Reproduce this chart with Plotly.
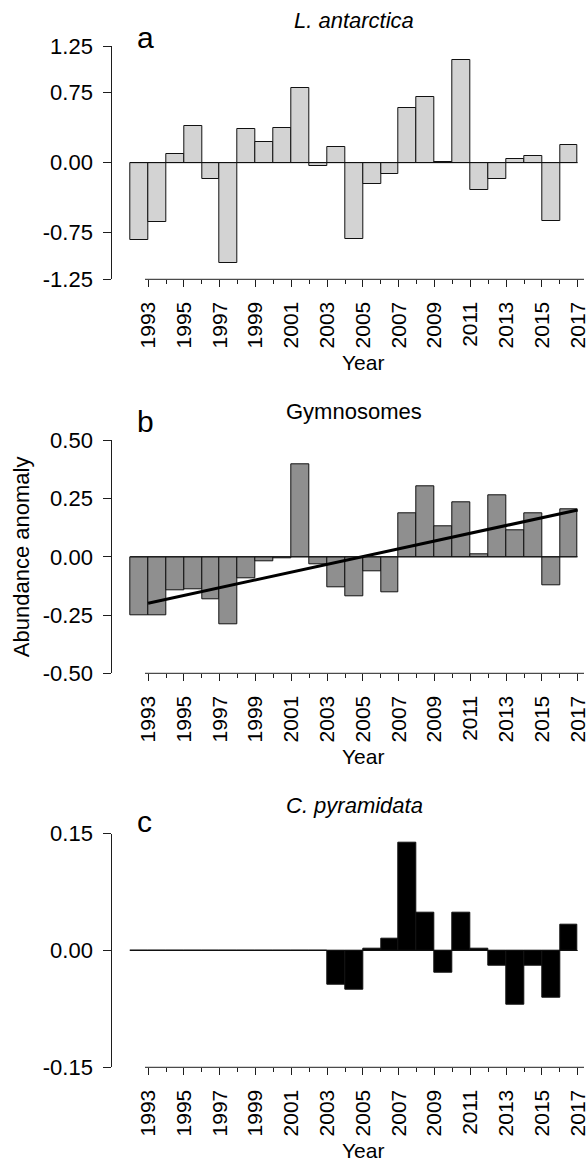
import plotly.graph_objects as go

# ---------------- data ----------------
years = list(range(1993, 2018))
tick_years = list(range(1993, 2018, 2))
minor_years = list(range(1994, 2017, 2))

l_antarctica = [-0.825, -0.632, 0.093, 0.396, -0.179, -1.075, 0.357, 0.218, 0.368, 0.796,
                -0.036, 0.168, -0.818, -0.232, -0.118, 0.586, 0.700, 0.003, 1.096, -0.289,
                -0.175, 0.043, 0.068, -0.625, 0.186]

gymnosomes = [-0.250, -0.250, -0.144, -0.139, -0.184, -0.289, -0.094, -0.020, -0.006, 0.399,
              -0.033, -0.129, -0.171, -0.064, -0.154, 0.187, 0.303, 0.133, 0.236, 0.009,
              0.264, 0.114, 0.187, -0.123, 0.206]
gymno_trend_years = [1993, 2017]
gymno_trend = [-0.199, 0.201]

c_pyramidata = [0, 0, 0, 0, 0, 0, 0, 0, 0, 0,
                0, -0.044, -0.050, 0.002, 0.015, 0.138, 0.048, -0.028, 0.049, 0.002,
                -0.019, -0.069, -0.020, -0.060, 0.033]

yticks_a = [-1.25, -0.75, 0.0, 0.75, 1.25]
yticks_b = [-0.50, -0.25, 0.0, 0.25, 0.50]
yticks_c = [-0.15, 0.0, 0.15]

titles = ["<i>L. antarctica</i>", "Gymnosomes", "<i>C. pyramidata</i>"]
letters = ["a", "b", "c"]

# ---------------- layout helpers ----------------
W, H = 586, 1161
FONT = "Arial, Liberation Sans, Helvetica, sans-serif"
AX = "#1e1e1e"

def py(px):
    return 1 - px / H

x_left_px, x_right_px = 112.3, 584.0
xdom = [x_left_px / W, x_right_px / W]
px_per_year = 17.9
x0 = 1993 - (148.1 - x_left_px) / px_per_year
x1 = x0 + (x_right_px - x_left_px) / px_per_year

panels = [
    dict(top=46.0, bot=279.3, vals=l_antarctica, color="#d3d3d3", yt=yticks_a,
         title_y=20.6, letter_y=38.0, year_y=362.3),
    dict(top=440.3, bot=673.3, vals=gymnosomes, color="#8f8f8f", yt=yticks_b,
         title_y=411.6, letter_y=421.6, year_y=756.3),
    dict(top=833.7, bot=1067.3, vals=c_pyramidata, color="#000000", yt=yticks_c,
         title_y=805.6, letter_y=821.6, year_y=1150.3),
]

fig = go.Figure()
layout = dict(
    width=W, height=H, margin=dict(l=0, r=0, t=0, b=0),
    paper_bgcolor="white", plot_bgcolor="white", showlegend=False,
    font=dict(family=FONT, color="black", size=21),
)
shapes = []
annotations = []

for i, p in enumerate(panels):
    n = i + 1
    xa = "x" if n == 1 else f"x{n}"
    ya = "y" if n == 1 else f"y{n}"
    xkey = "xaxis" if n == 1 else f"xaxis{n}"
    ykey = "yaxis" if n == 1 else f"yaxis{n}"

    fig.add_trace(go.Bar(
        x=years, y=p["vals"], width=1, offset=-1,
        marker=dict(color=p["color"], line=dict(color="#111111", width=1)),
        xaxis=xa, yaxis=ya,
    ))

    yr = [p["yt"][0], p["yt"][-1]]
    layout[xkey] = dict(
        domain=xdom, range=[x0, x1], anchor=ya,
        showgrid=False, zeroline=False, showline=False,
        tickmode="array", tickvals=tick_years, ticktext=[str(y) for y in tick_years],
        ticks="outside", ticklen=7, tickwidth=1, tickcolor=AX,
        tickangle=-90, tickfont=dict(size=21, family=FONT),
        ticklabelstandoff=6, ticklabeloverflow="allow",
        minor=dict(tickvals=minor_years, ticks="outside", ticklen=4, tickwidth=1,
                   tickcolor=AX, showgrid=False),
        automargin=False, fixedrange=True,
    )
    layout[ykey] = dict(
        domain=[py(p["bot"]), py(p["top"])], range=yr, anchor=xa,
        showgrid=False, zeroline=False, showline=True, linecolor=AX, linewidth=1,
        tickmode="array", tickvals=p["yt"], ticktext=[f"{v:.2f}" for v in p["yt"]],
        ticks="outside", ticklen=8, tickwidth=1, tickcolor=AX,
        tickfont=dict(size=22, family=FONT), ticklabelstandoff=6,
        ticklabeloverflow="allow",
        automargin=False, fixedrange=True,
    )

    # x axis line (starts just before first tick, as in reference)
    shapes.append(dict(type="line", xref=f"{xa} domain", yref=f"{ya} domain",
                       x0=(145.0 - x_left_px) / (x_right_px - x_left_px), x1=1.0,
                       y0=0, y1=0, line=dict(color=AX, width=1)))
    # zero baseline under bars
    shapes.append(dict(type="line", xref=xa, yref=ya,
                       x0=years[0] - 1, x1=years[-1], y0=0, y1=0,
                       line=dict(color="#111111", width=1), layer="above"))

    annotations.append(dict(text=titles[i], xref="paper", yref="paper",
                            x=354 / W, y=py(p["title_y"]), xanchor="center", yanchor="middle",
                            showarrow=False, font=dict(size=22, family=FONT)))
    annotations.append(dict(text=letters[i], xref="paper", yref="paper",
                            x=135 / W, y=py(p["letter_y"]), xanchor="left", yanchor="middle",
                            showarrow=False, font=dict(size=30, family=FONT)))
    annotations.append(dict(text="Year", xref="paper", yref="paper",
                            x=363 / W, y=py(p["year_y"]), xanchor="center", yanchor="middle",
                            showarrow=False, font=dict(size=21, family=FONT)))

# trend line in panel b
fig.add_trace(go.Scatter(x=gymno_trend_years, y=gymno_trend, mode="lines",
                         line=dict(color="black", width=3), xaxis="x2", yaxis="y2",
                         hoverinfo="skip"))

annotations.append(dict(text="Abundance anomaly", xref="paper", yref="paper",
                        x=21.5 / W, y=py(556.7), xanchor="center", yanchor="middle",
                        textangle=-90, showarrow=False, font=dict(size=22, family=FONT)))

layout["shapes"] = shapes
layout["annotations"] = annotations
layout["bargap"] = 0
fig.update_layout(**layout)

fig.write_html("out.html")
